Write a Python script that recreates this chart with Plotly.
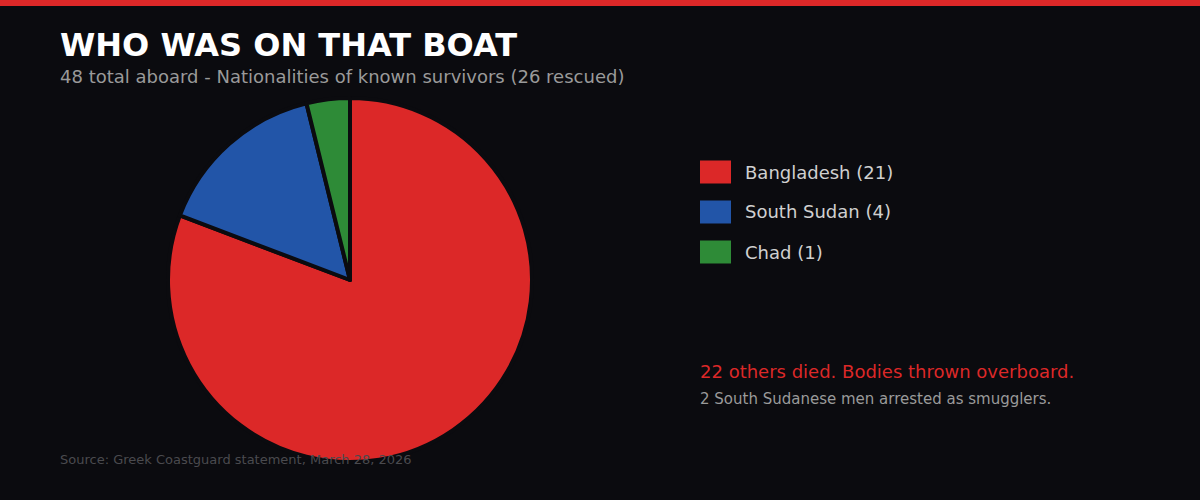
import plotly.graph_objects as go

# --- data ---
countries = ["Bangladesh", "South Sudan", "Chad"]
survivors = [21, 4, 1]
slice_colors = ["#dc2828", "#2255a8", "#2e8b37"]

title_text = "WHO WAS ON THAT BOAT"
subtitle_text = "48 total aboard - Nationalities of known survivors (26 rescued)"
note_main = "22 others died. Bodies thrown overboard."
note_sub = "2 South Sudanese men arrested as smugglers."
source_text = "Source: Greek Coastguard statement, March 28, 2026"

BG = "#0b0b0f"
W, H = 1200, 500

pie = go.Pie(
    labels=countries,
    values=survivors,
    sort=False,
    direction="clockwise",
    rotation=0,
    marker=dict(colors=slice_colors, line=dict(color=BG, width=4)),
    textinfo="none",
    hoverinfo="label+value",
    showlegend=False,
    domain=dict(x=[168 / W, 532 / W], y=[1 - 462 / H, 1 - 98 / H]),
)

fig = go.Figure(data=[pie])

shapes = [
    # red strip across the top
    dict(type="rect", xref="paper", yref="paper", x0=0, x1=1, y0=1 - 6 / H, y1=1,
         fillcolor="#dc2828", line=dict(width=0), layer="above"),
]
annotations = [
    dict(text=f"<b>{title_text}</b>", x=58 / W, y=1 - 45 / H, xanchor="left", yanchor="middle",
         font=dict(size=32, color="white", family="DejaVu Sans")),
    dict(text=subtitle_text, x=58 / W, y=1 - 76 / H, xanchor="left", yanchor="middle",
         font=dict(size=18, color="#9a9a9a", family="DejaVu Sans")),
    dict(text=note_main, x=698 / W, y=1 - 371 / H, xanchor="left", yanchor="middle",
         font=dict(size=18, color="#dc2828", family="DejaVu Sans")),
    dict(text=note_sub, x=698 / W, y=1 - 399 / H, xanchor="left", yanchor="middle",
         font=dict(size=15, color="#9a9a9a", family="DejaVu Sans")),
    dict(text=source_text, x=58 / W, y=1 - 459 / H, xanchor="left", yanchor="middle",
         font=dict(size=13, color="#4a4a4e", family="DejaVu Sans")),
]

# hand-built legend: swatch + label per country
for n, (name, val, col) in enumerate(zip(countries, survivors, slice_colors)):
    yc = 172 + n * 40
    shapes.append(dict(type="rect", xref="paper", yref="paper",
                       x0=700 / W, x1=731 / W, y0=1 - (yc + 11.5) / H, y1=1 - (yc - 11.5) / H,
                       fillcolor=col, line=dict(width=0)))
    annotations.append(dict(text=f"{name} ({val})", x=743 / W, y=1 - yc / H,
                            xanchor="left", yanchor="middle",
                            font=dict(size=18, color="#d0d0d0", family="DejaVu Sans")))

for a in annotations:
    a.update(xref="paper", yref="paper", showarrow=False)

fig.update_layout(
    width=W, height=H,
    paper_bgcolor=BG, plot_bgcolor=BG,
    margin=dict(l=0, r=0, t=0, b=0),
    shapes=shapes,
    annotations=annotations,
)

# drop the default page margin so the figure sits flush in the window
fig.write_html("out.html",
               config={"displayModeBar": False},
               post_script="document.body.style.margin='0';document.body.style.background='#0b0b0f';")
